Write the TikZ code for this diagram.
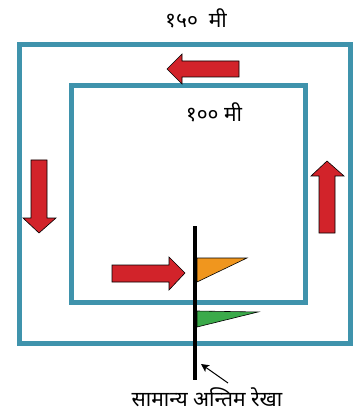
\documentclass[tikz,border=0pt]{standalone}
\usepackage{fontspec}
\newfontfamily\deva[Script=Devanagari]{Noto Sans}
\usetikzlibrary{arrows.meta}
\definecolor{piste}{HTML}{3F93AC}
\definecolor{fleche}{HTML}{D2232A}
\definecolor{drapA}{HTML}{F0961E}
\definecolor{drapB}{HTML}{3BAA4A}
\tikzset{
  piste/.style={draw=piste,line width=5pt},
  bloc/.style={fill=fleche,draw=black,line width=0.6pt,line join=miter},
  texte/.style={font=\deva\fontsize{21}{24}\selectfont,inner sep=0pt}
}
\begin{document}
\begin{tikzpicture}[x=1pt,y=-1pt]
\useasboundingbox (0,0) rectangle (356,411);

% Pistes
\draw[piste] (19,45) rectangle (350,343);
\draw[piste] (71,86) rectangle (305,302);

\node[texte] (ext) at (196,18) {१५०~ मी};
\node[texte] (int) at (214,112) {१०० मी};

% Flèches
\draw[bloc]
(239,61)
--
(182,61)
--
(182,54)
--
(167,69)
--
(182,84)
--
(182,77)
--
(239,77)
--
cycle;

\draw[bloc]
(31,160)
--
(31,218)
--
(23,218)
--
(39,233)
--
(56,218)
--
(47,218)
--
(47,160)
--
cycle;

\draw[bloc]
(319,233)
--
(319,176)
--
(311,176)
--
(327,161)
--
(344,176)
--
(335,176)
--
(335,233)
--
cycle;

\draw[bloc]
(112,265)
--
(169,265)
--
(169,257)
--
(185,273)
--
(169,290)
--
(169,282)
--
(112,282)
--
cycle;

% Ligne d'arrivée
\coordinate (haut) at (195,226);
\coordinate (bas) at (195,380);
\draw[line width=4.5pt] (haut) -- (bas);

\draw[fill=drapA,line width=0.6pt]
(197,258)
--
(247,258)
--
(197,282)
--
cycle;

\draw[fill=drapB,line width=0.6pt]
(197,311)
--
(258,312)
--
(197,327)
--
cycle;

\node[texte] (ligne) at (207,397) {सामान्य अन्तिम रेखा};
\coordinate (pied) at (228,383);
\coordinate (pointe) at (201,364);
\draw[-{Stealth[length=8pt,width=8pt,inset=2pt]},line width=1pt] (pied) -- (pointe);

\end{tikzpicture}
\end{document}
